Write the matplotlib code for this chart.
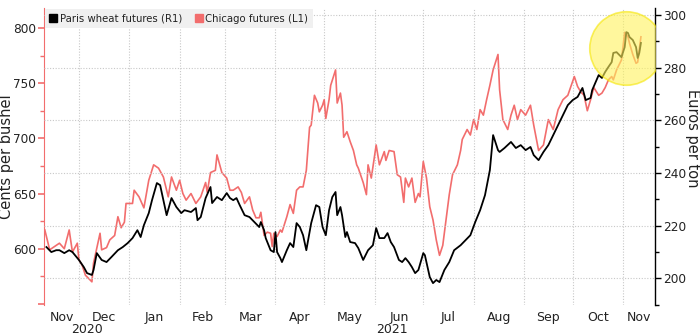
import pandas as pd
import matplotlib
matplotlib.use("Agg")
import matplotlib.pyplot as plt
import matplotlib.dates as mdates
from matplotlib.lines import Line2D
from matplotlib.ticker import MultipleLocator, FixedLocator, FixedFormatter, FuncFormatter, NullFormatter

# Chicago wheat futures (cents per bushel, left axis)
chicago_dates = [
    "2020-11-10", "2020-11-13", "2020-11-16", "2020-11-19", "2020-11-22", "2020-11-25",
    "2020-11-27", "2020-11-30", "2020-12-01", "2020-12-03", "2020-12-05", "2020-12-09",
    "2020-12-10", "2020-12-14", "2020-12-15", "2020-12-18", "2020-12-20", "2020-12-23",
    "2020-12-25", "2020-12-27", "2020-12-29", "2020-12-30", "2021-01-03", "2021-01-04",
    "2021-01-07", "2021-01-10", "2021-01-13", "2021-01-16", "2021-01-19", "2021-01-22",
    "2021-01-25", "2021-01-27", "2021-01-30", "2021-02-01", "2021-02-03", "2021-02-05",
    "2021-02-08", "2021-02-11", "2021-02-14", "2021-02-17", "2021-02-18", "2021-02-20",
    "2021-02-23", "2021-02-24", "2021-02-27", "2021-03-02", "2021-03-04", "2021-03-06",
    "2021-03-09", "2021-03-11", "2021-03-13", "2021-03-16", "2021-03-18", "2021-03-20",
    "2021-03-22", "2021-03-23", "2021-03-25", "2021-03-27", "2021-03-29", "2021-03-30",
    "2021-03-31", "2021-04-02", "2021-04-04", "2021-04-05", "2021-04-08", "2021-04-10",
    "2021-04-12", "2021-04-14", "2021-04-16", "2021-04-18", "2021-04-20", "2021-04-22",
    "2021-04-23", "2021-04-25", "2021-04-27", "2021-04-28", "2021-04-30", "2021-05-01",
    "2021-05-02", "2021-05-04", "2021-05-05", "2021-05-08", "2021-05-09", "2021-05-11",
    "2021-05-12", "2021-05-13", "2021-05-15", "2021-05-17", "2021-05-19", "2021-05-21",
    "2021-05-22", "2021-05-25", "2021-05-27", "2021-05-28", "2021-05-30", "2021-06-02",
    "2021-06-04", "2021-06-07", "2021-06-08", "2021-06-10", "2021-06-13", "2021-06-15",
    "2021-06-17", "2021-06-19", "2021-06-20", "2021-06-22", "2021-06-24", "2021-06-26",
    "2021-06-28", "2021-06-29", "2021-07-01", "2021-07-03", "2021-07-05", "2021-07-07",
    "2021-07-09", "2021-07-11", "2021-07-13", "2021-07-15", "2021-07-17", "2021-07-19",
    "2021-07-22", "2021-07-24", "2021-07-25", "2021-07-28", "2021-07-30", "2021-08-01",
    "2021-08-03", "2021-08-05", "2021-08-07", "2021-08-09", "2021-08-11", "2021-08-13",
    "2021-08-16", "2021-08-17", "2021-08-19", "2021-08-22", "2021-08-24", "2021-08-26",
    "2021-08-28", "2021-08-30", "2021-09-02", "2021-09-05", "2021-09-07", "2021-09-10",
    "2021-09-13", "2021-09-16", "2021-09-19", "2021-09-22", "2021-09-25", "2021-09-28",
    "2021-10-02", "2021-10-04", "2021-10-06", "2021-10-08", "2021-10-10", "2021-10-12",
    "2021-10-14", "2021-10-17", "2021-10-19", "2021-10-21", "2021-10-23", "2021-10-25",
    "2021-10-26", "2021-10-28", "2021-10-31", "2021-11-01", "2021-11-02", "2021-11-04",
    "2021-11-05", "2021-11-07", "2021-11-09", "2021-11-10", "2021-11-12",
]
chicago_cents = [
    617, 599, 602, 605, 600, 617,
    597, 605, 590, 585, 576, 570,
    587, 614, 599, 601, 608, 612,
    629, 619, 624, 641, 641, 653,
    647, 637, 662, 676, 673, 665,
    647, 665, 653, 662, 650, 644,
    650, 641, 647, 660, 651, 669,
    671, 685, 669, 664, 653, 653,
    656, 651, 641, 647, 635, 628,
    628, 633, 612, 615, 614, 602,
    614, 611, 617, 615, 629, 640,
    632, 653, 656, 656, 671, 710,
    712, 739, 732, 724, 730, 735,
    718, 735, 748, 762, 732, 741,
    730, 701, 706, 697, 689, 676,
    673, 660, 649, 676, 664, 694,
    676, 688, 680, 689, 688, 667,
    665, 642, 664, 656, 664, 642,
    650, 647, 679, 664, 638, 626,
    608, 594, 603, 626, 649, 667,
    676, 689, 699, 708, 703, 717,
    708, 726, 721, 735, 748, 762,
    776, 744, 717, 708, 721, 730,
    717, 726, 721, 730, 712, 689,
    694, 717, 708, 726, 735, 739,
    756, 747, 742, 739, 725, 735,
    746, 739, 741, 746, 753, 756,
    753, 762, 771, 783, 796, 792,
    786, 776, 768, 769, 792,
]

# Paris wheat futures (euros per ton, right axis)
paris_dates = [
    "2020-11-11", "2020-11-14", "2020-11-17", "2020-11-19", "2020-11-22", "2020-11-25",
    "2020-11-27", "2020-12-01", "2020-12-04", "2020-12-06", "2020-12-09", "2020-12-10",
    "2020-12-12", "2020-12-15", "2020-12-18", "2020-12-21", "2020-12-25", "2020-12-28",
    "2020-12-31", "2021-01-03", "2021-01-06", "2021-01-08", "2021-01-10", "2021-01-13",
    "2021-01-15", "2021-01-18", "2021-01-20", "2021-01-24", "2021-01-27", "2021-01-30",
    "2021-02-02", "2021-02-04", "2021-02-08", "2021-02-11", "2021-02-12", "2021-02-14",
    "2021-02-17", "2021-02-20", "2021-02-21", "2021-02-24", "2021-02-27", "2021-03-02",
    "2021-03-04", "2021-03-06", "2021-03-08", "2021-03-10", "2021-03-13", "2021-03-16",
    "2021-03-19", "2021-03-22", "2021-03-23", "2021-03-25", "2021-03-26", "2021-03-29",
    "2021-03-31", "2021-04-01", "2021-04-02", "2021-04-04", "2021-04-05", "2021-04-08",
    "2021-04-10", "2021-04-12", "2021-04-14", "2021-04-16", "2021-04-18", "2021-04-20",
    "2021-04-23", "2021-04-26", "2021-04-28", "2021-04-30", "2021-05-02", "2021-05-04",
    "2021-05-06", "2021-05-08", "2021-05-09", "2021-05-11", "2021-05-12", "2021-05-14",
    "2021-05-15", "2021-05-17", "2021-05-20", "2021-05-22", "2021-05-25", "2021-05-28",
    "2021-05-31", "2021-06-02", "2021-06-04", "2021-06-07", "2021-06-09", "2021-06-11",
    "2021-06-13", "2021-06-16", "2021-06-18", "2021-06-20", "2021-06-22", "2021-06-24",
    "2021-06-26", "2021-06-28", "2021-07-01", "2021-07-02", "2021-07-05", "2021-07-07",
    "2021-07-09", "2021-07-11", "2021-07-14", "2021-07-17", "2021-07-20", "2021-07-24",
    "2021-07-27", "2021-07-30", "2021-08-02", "2021-08-05", "2021-08-08", "2021-08-11",
    "2021-08-13", "2021-08-16", "2021-08-17", "2021-08-20", "2021-08-24", "2021-08-27",
    "2021-08-30", "2021-09-02", "2021-09-05", "2021-09-07", "2021-09-10", "2021-09-13",
    "2021-09-16", "2021-09-19", "2021-09-22", "2021-09-25", "2021-09-28", "2021-10-01",
    "2021-10-04", "2021-10-07", "2021-10-09", "2021-10-12", "2021-10-13", "2021-10-17",
    "2021-10-19", "2021-10-21", "2021-10-23", "2021-10-25", "2021-10-26", "2021-10-28",
    "2021-10-31", "2021-11-02", "2021-11-03", "2021-11-04", "2021-11-05", "2021-11-07",
    "2021-11-09", "2021-11-10", "2021-11-11", "2021-11-12",
]
paris_euros = [
    211.9, 210.0, 210.7, 210.7, 209.6, 210.7,
    210.0, 207.0, 204.3, 202.0, 201.3, 203.2,
    209.6, 207.0, 206.2, 208.1, 210.7, 211.9,
    213.4, 215.3, 218.3, 215.7, 220.2, 224.8,
    229.7, 236.2, 235.4, 224.0, 230.5, 227.1,
    224.8, 225.9, 225.2, 226.7, 222.1, 223.3,
    230.5, 234.7, 228.6, 230.9, 229.7, 232.4,
    230.5, 229.7, 230.5, 227.8, 224.0, 223.3,
    221.4, 219.5, 221.4, 218.3, 215.3, 210.7,
    210.0, 217.6, 210.0, 207.7, 206.2, 210.7,
    213.4, 211.9, 221.0, 219.5, 216.4, 210.7,
    221.0, 227.8, 227.1, 219.5, 216.4, 225.9,
    230.9, 232.8, 224.0, 227.1, 224.0, 215.7,
    217.6, 213.8, 213.4, 211.5, 207.0, 210.7,
    212.6, 219.1, 215.3, 215.3, 217.2, 213.8,
    211.9, 207.0, 206.2, 207.7, 206.2, 204.3,
    202.0, 203.2, 209.6, 208.8, 200.5, 198.2,
    199.4, 198.6, 203.2, 206.2, 210.7, 212.6,
    214.5, 216.4, 221.4, 225.9, 231.6, 241.1,
    254.4, 248.7, 248.0, 249.5, 251.8, 249.5,
    250.6, 248.7, 249.9, 246.8, 244.9, 248.0,
    250.6, 254.4, 258.2, 262.0, 265.8, 267.7,
    268.9, 272.3, 267.7, 268.5, 271.5, 277.2,
    276.1, 278.4, 280.3, 282.1, 285.6, 285.9,
    284.0, 287.8, 293.5, 293.2, 291.6, 290.5,
    287.8, 283.7, 285.6, 289.4,
]

legend_labels = ["Paris wheat futures (R1)", "Chicago futures (L1)"]
highlight_date = "2021-11-03"
highlight_euros = 287.5

x_start = pd.Timestamp("2020-11-09 12:00")
x_end = pd.Timestamp("2021-11-20 16:00")

chicago_x = pd.to_datetime(chicago_dates)
paris_x = pd.to_datetime(paris_dates)

fig = plt.figure(figsize=(7, 3.36), dpi=100)
ax = fig.add_axes([44 / 700, 31 / 336, 611 / 700, 297 / 336])
ax2 = ax.twinx()

red = "#f26d6d"
txt = "#222222"
ax.plot(chicago_x, chicago_cents, color=red, lw=1.2, zorder=2)
ax2.plot(paris_x, paris_euros, color="black", lw=1.3, zorder=3)
ax2.scatter([pd.Timestamp(highlight_date)], [highlight_euros], s=2800,
            color="#fff35c", alpha=0.6, edgecolors="#f5e600", linewidths=1.2, zorder=4)

ax.set_xlim(x_start, x_end)
ax.set_ylim(549, 818.1)
ax2.set_ylim(189.9, 302.66)

# left axis (Chicago)
ax.yaxis.set_major_locator(MultipleLocator(50))
ax.yaxis.set_minor_locator(MultipleLocator(25))
ax.yaxis.set_major_formatter(FuncFormatter(lambda v, p: "" if v < 575 else f"{v:.0f}"))
ax.tick_params(axis="y", which="major", colors=red, length=4, width=1.2, labelcolor=txt,
               labelsize=8.7, pad=1.5)
ax.tick_params(axis="y", which="minor", colors=red, length=3, width=1)
ax.set_ylabel("Cents per bushel", fontsize=10.5, color=txt)
ax.yaxis.label.set_va("center")
ax.yaxis.set_label_coords(-0.0615, 0.5)

# right axis (Paris)
ax2.yaxis.set_major_locator(MultipleLocator(20))
ax2.yaxis.set_minor_locator(MultipleLocator(10))
ax2.tick_params(axis="y", which="major", colors="black", length=4, width=1, labelcolor=txt,
                labelsize=8.7, pad=1.5)
ax2.tick_params(axis="y", which="minor", colors="black", length=3, width=1)
ax2.set_ylabel("Euros per ton", fontsize=10.5, color=txt, rotation=270)
ax2.yaxis.label.set_va("center")
ax2.yaxis.set_label_coords(1.062, 0.56)

for s in ["top", "bottom", "right"]:
    ax.spines[s].set_visible(False)
ax.spines["left"].set_color(red)
ax.spines["left"].set_linewidth(0.8)
for s in ["top", "bottom", "left"]:
    ax2.spines[s].set_visible(False)
ax2.spines["right"].set_color("black")
ax2.spines["right"].set_linewidth(1)

# month grid lines at month starts, labels centred in each visible month
month_starts = pd.date_range("2020-12-01", "2021-11-01", freq="MS")
edges = [x_start] + list(month_starts) + [x_end]
mids = [a + (b - a) / 2 for a, b in zip(edges[:-1], edges[1:])]
month_names = [m.strftime("%b") for m in [x_start] + list(month_starts)]
ax.xaxis.set_major_locator(FixedLocator(mdates.date2num(month_starts)))
ax.xaxis.set_major_formatter(NullFormatter())
ax.xaxis.set_minor_locator(FixedLocator(mdates.date2num(mids)))
ax.xaxis.set_minor_formatter(FixedFormatter(month_names))
ax.tick_params(axis="x", which="both", length=0, labelsize=9, labelcolor=txt, pad=4)
ax.grid(axis="x", which="major", color="#c8c8c8", lw=0.8, ls=(0, (1, 1.5)))
ax2.grid(axis="y", which="major", color="#c8c8c8", lw=0.8, ls=(0, (1, 1.5)))
ax.set_axisbelow(True)

year_2021 = pd.Timestamp("2021-01-01")
for label, a, b in [("2020", x_start, year_2021), ("2021", year_2021, x_end)]:
    ax.text(mdates.date2num(a + (b - a) / 2), -0.093, label, transform=ax.get_xaxis_transform(),
            ha="center", va="baseline", fontsize=9, color=txt)

handles = [
    Line2D([], [], marker="s", ls="", color="black", markersize=6),
    Line2D([], [], marker="s", ls="", color=red, markersize=6),
]
leg = ax2.legend(handles, legend_labels, loc="upper left", bbox_to_anchor=(0.0, 1.0), ncol=2,
                 fontsize=7.3, frameon=True, fancybox=False, handlelength=0.7, handletextpad=0.3,
                 columnspacing=1.3, borderpad=0.45, borderaxespad=0.1)
leg.get_frame().set_facecolor("#f0f0f0")
leg.get_frame().set_edgecolor("none")
leg.get_frame().set_alpha(1)
for t in leg.get_texts():
    t.set_color(txt)

fig.savefig("out.png", dpi=100)
